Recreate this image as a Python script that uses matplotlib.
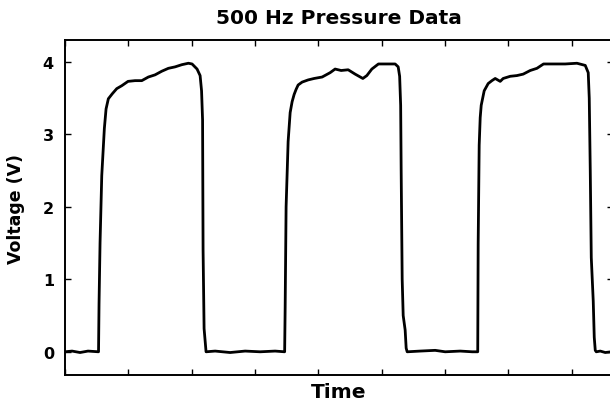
import matplotlib
matplotlib.use("Agg")
import matplotlib.pyplot as plt

# time in tick divisions, voltage in V
time = [
    0.000, 0.111, 0.237, 0.363, 0.529, 0.537, 0.553, 0.580, 0.621, 0.648,
    0.684, 0.747, 0.817, 0.896, 0.995, 1.106, 1.212, 1.316, 1.422, 1.528,
    1.632, 1.738, 1.844, 1.948, 2.006, 2.085, 2.133, 2.156, 2.172, 2.180,
    2.196, 2.227, 2.370, 2.607, 2.844, 3.081, 3.318, 3.468,
    3.476, 3.491, 3.523, 3.555, 3.586, 3.618, 3.649, 3.681, 3.744, 3.839,
    3.934, 4.060, 4.186, 4.265, 4.360, 4.471, 4.581, 4.703, 4.766, 4.845,
    4.949, 5.071, 5.213, 5.261, 5.284, 5.300, 5.308, 5.324, 5.340, 5.371,
    5.387, 5.403, 5.608, 5.845, 6.003, 6.240, 6.430, 6.517,
    6.524, 6.540, 6.556, 6.572, 6.619, 6.682, 6.741, 6.793, 6.872, 6.919,
    7.030, 7.136, 7.235, 7.346, 7.452, 7.556, 7.709, 7.899, 8.084, 8.215,
    8.262, 8.278, 8.294, 8.310, 8.341, 8.357, 8.373, 8.389, 8.452, 8.531,
    8.626,
]
voltage = [
    0.00, 0.01, -0.01, 0.01, 0.00, 0.66, 1.50, 2.43, 3.08, 3.35,
    3.49, 3.56, 3.63, 3.67, 3.73, 3.74, 3.74, 3.79, 3.82, 3.87,
    3.91, 3.93, 3.96, 3.98, 3.97, 3.90, 3.81, 3.60, 3.20, 1.40,
    0.32, 0.00, 0.01, -0.01, 0.01, 0.00, 0.01, 0.00,
    0.60, 2.00, 2.90, 3.30, 3.45, 3.55, 3.62, 3.68, 3.72, 3.75,
    3.77, 3.79, 3.85, 3.90, 3.88, 3.89, 3.83, 3.77, 3.81, 3.90,
    3.97, 3.97, 3.97, 3.93, 3.80, 3.40, 2.50, 1.00, 0.50, 0.30,
    0.05, 0.00, 0.01, 0.02, 0.00, 0.01, 0.00, 0.00,
    1.50, 2.85, 3.23, 3.40, 3.60, 3.70, 3.74, 3.77, 3.73, 3.77,
    3.80, 3.81, 3.83, 3.88, 3.91, 3.97, 3.97, 3.97, 3.98, 3.95,
    3.85, 3.50, 2.50, 1.30, 0.70, 0.20, 0.02, 0.00, 0.01, -0.01,
    0.00,
]
x_ticks = [0, 1, 2, 3, 4, 5, 6, 7, 8]
y_ticks = [0, 1, 2, 3, 4]

fig = plt.figure(figsize=(6.1, 4.06), dpi=100)
ax = fig.add_axes([0.1066, 0.0739, 0.898, 0.825])

ax.plot(time, voltage, color="black", linewidth=2.0)

ax.set_xlim(0, 8.65)
ax.set_ylim(-0.32, 4.3)
ax.set_xticks(x_ticks)
ax.set_yticks(y_ticks)
ax.tick_params(direction="in", top=True, right=True, length=4, width=1,
               labelbottom=False)
ax.tick_params(axis="y", pad=8, labelsize=11.5)
for label in ax.get_yticklabels():
    label.set_fontweight("bold")
for spine in ax.spines.values():
    spine.set_linewidth(1.4)

ax.set_title("500 Hz Pressure Data", fontsize=14.5, fontweight="bold", pad=12)
ax.set_xlabel("Time", fontsize=14.5, fontweight="bold", labelpad=5)
ax.set_ylabel("Voltage (V)", fontsize=12.5, fontweight="bold", labelpad=13)

fig.savefig("out.png", dpi=100)
